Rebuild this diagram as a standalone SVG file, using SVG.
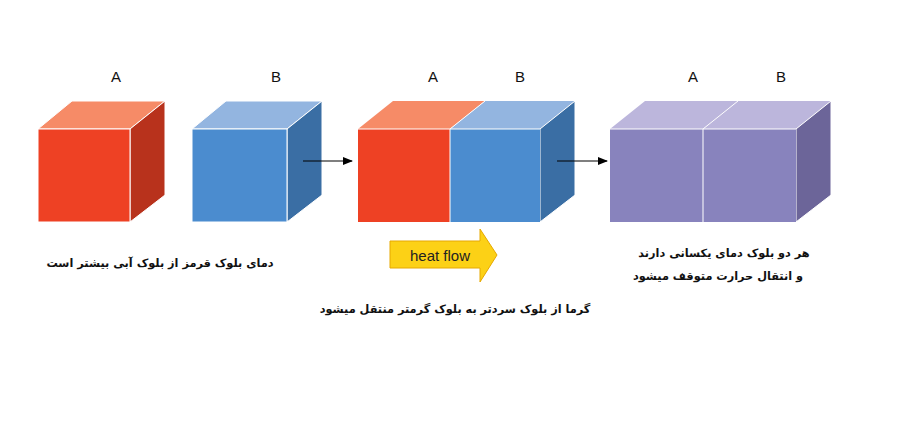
<svg xmlns="http://www.w3.org/2000/svg" width="900" height="425" viewBox="0 0 900 425">
<style>
.lbl{font-family:"Liberation Sans",Arial,sans-serif;font-size:15px;fill:#111;text-anchor:middle}
.fa{font-family:"DejaVu Sans","Noto Sans",sans-serif;font-size:11.3px;font-weight:bold;fill:#111;text-anchor:middle}
.e{stroke:#fff;stroke-width:1}
.rf{fill:#ee4124}.rt{fill:#f68b67}.rs{fill:#b8321c}
.bf{fill:#4b8ccf}.bt{fill:#93b5e0}.bs{fill:#3a6ea4}
.pf{fill:#8883bd}.pt{fill:#bcb6dc}.ps{fill:#6c6599}
</style>
<defs><marker id="ah" markerWidth="10" markerHeight="8" refX="9" refY="4" orient="auto" markerUnits="userSpaceOnUse"><path d="M0,0 L10,4 L0,8 z" fill="#000"/></marker></defs>
<rect width="900" height="425" fill="#fff"/>
<g id="cubeA1">
<polygon class="rt e" points="38,129 72,101 165,101 130,129"/>
<polygon class="rs e" points="130,129 165,101 165,195 130,222"/>
<rect class="rf e" x="38" y="129" width="92" height="93"/>
<text class="lbl" x="116" y="82">A</text>
</g>
<g id="cubeB1">
<polygon class="bt e" points="192,129 226,101 322,101 287,129"/>
<polygon class="bs e" points="287,129 322,101 322,195 287,222"/>
<rect class="bf e" x="192" y="129" width="95" height="93"/>
<text class="lbl" x="276" y="82">B</text>
</g>
<g id="pairAB">
<polygon class="rt" points="358,129 393,101 485,101 450,129"/>
<polygon class="bt" points="450,129 485,101 575,101 540,129"/>
<line class="e" x1="450" y1="129" x2="485" y2="101"/>
<polygon class="bs e" points="540,129 575,101 575,195 540,222"/>
<rect class="rf" x="358" y="129" width="92" height="93"/>
<rect class="bf" x="450" y="129" width="90" height="93"/>
<line class="e" x1="450" y1="129" x2="450" y2="222"/>
<line class="e" x1="358" y1="129" x2="540" y2="129"/>
<text class="lbl" x="433" y="82">A</text>
<text class="lbl" x="520" y="82">B</text>
</g>
<g id="pairEq">
<polygon class="pt" points="610,129 645,101 831,101 796,129"/>
<line class="e" x1="703" y1="129" x2="738" y2="101"/>
<polygon class="ps e" points="796,129 831,101 831,195 796,222"/>
<rect class="pf" x="610" y="129" width="186" height="93"/>
<line class="e" x1="703" y1="129" x2="703" y2="222"/>
<line class="e" x1="610" y1="129" x2="796" y2="129"/>
<text class="lbl" x="693" y="82">A</text>
<text class="lbl" x="781" y="82">B</text>
</g>
<g id="heatflow">
<polygon points="390,241 480,241 480,229 497,255 480,282 480,268 390,268" fill="#fcd116" stroke="#e6a800" stroke-width="1"/>
<text x="440" y="261" font-family="Liberation Sans,Arial,sans-serif" font-size="15" fill="#222" text-anchor="middle">heat flow</text>
</g>
<g id="connectors">
<line x1="303" y1="161" x2="352" y2="161" stroke="#000" stroke-width="1.2" marker-end="url(#ah)"/>
<line x1="557" y1="161" x2="607" y2="161" stroke="#000" stroke-width="1.2" marker-end="url(#ah)"/>
</g>
<g id="texts">
<text class="fa" x="160" y="267" direction="rtl">دمای بلوک قرمز از بلوک آبی بیشتر است</text>
<text class="fa" x="455" y="313" direction="rtl">گرما از بلوک سردتر به بلوک گرمتر منتقل میشود</text>
<text class="fa" x="724" y="257" direction="rtl">هر دو بلوک دمای یکسانی دارند</text>
<text class="fa" x="718" y="280" direction="rtl">و انتقال حرارت متوقف میشود</text>
</g>
</svg>
